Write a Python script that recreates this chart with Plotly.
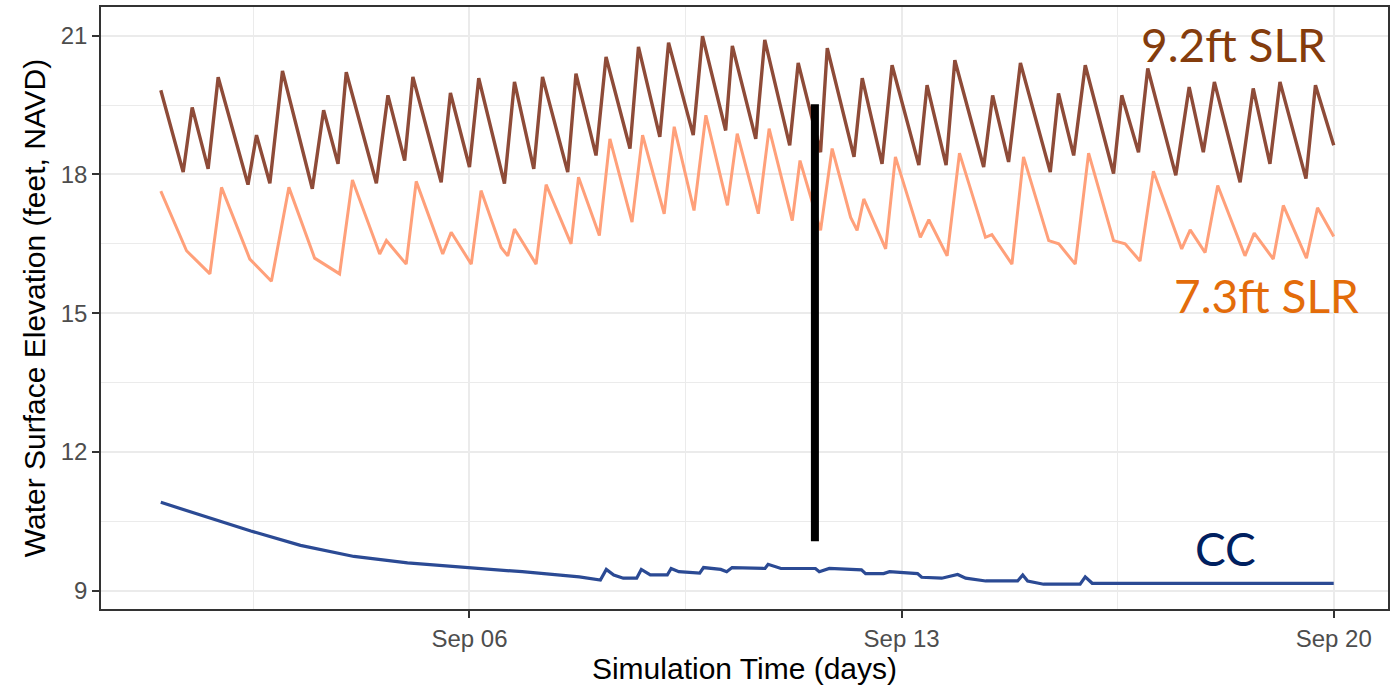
import pandas as pd
import plotly.graph_objects as go

START = pd.Timestamp("2023-09-01 00:00")

# 9.2ft SLR (hours since Sep 1, water surface elevation ft NAVD)
slr92_h = [0, 8.7, 12.2, 18.4, 22.3, 33.9, 37.2, 42.4, 47.3, 58.9, 63.3, 68.9, 72.1, 83.8, 88.3,
           94.8, 98.0, 109.0, 112.6, 120.0, 123.6, 133.6, 137.5, 145.0, 148.4, 158.2, 161.4, 169.2,
           173.1, 182.4, 185.7, 194.0, 197.4, 207.0, 210.6, 219.6, 222.2, 231.3, 234.8, 244.5, 247.8,
           256.5, 259.1, 269.5, 272.7, 280.4, 284.3, 294.7, 297.9, 305.3, 308.7, 319.9, 323.4, 329.6,
           334.2, 345.8, 349.0, 354.9, 359.4, 370.4, 373.6, 380.1, 383.7, 394.6, 399.8, 405.3, 409.6,
           419.6, 424.7, 431.2, 435.1, 445.2, 448.9, 456.0]
slr92_v = [19.82, 18.05, 19.45, 18.12, 20.10, 17.78, 18.85, 17.81, 20.24, 17.69, 19.39, 18.23, 20.21,
           17.81, 19.71, 18.30, 20.11, 17.83, 19.76, 18.16, 20.08, 17.80, 20.00, 18.12, 20.11, 18.05,
           20.18, 18.41, 20.54, 18.56, 20.76, 18.81, 20.85, 18.85, 20.99, 18.95, 20.78, 18.77, 20.91,
           18.63, 20.41, 18.48, 20.73, 18.38, 20.08, 18.23, 20.36, 18.20, 19.93, 18.20, 20.47, 18.16,
           19.71, 18.27, 20.41, 18.05, 19.75, 18.41, 20.36, 18.02, 19.71, 18.48, 20.29, 17.98, 19.89,
           18.48, 20.00, 17.83, 19.86, 18.23, 20.00, 17.91, 19.93, 18.63]

# 7.3ft SLR
slr73_h = [0, 10.0, 19.1, 23.6, 34.6, 43.0, 49.8, 59.8, 69.5, 74.5, 85.1, 87.7, 95.4, 99.3, 109.6,
           112.9, 120.7, 124.5, 132.3, 134.9, 137.5, 145.9, 149.8, 159.5, 162.4, 170.5, 174.6, 183.2,
           187.3, 195.7, 199.6, 207.3, 211.9, 220.3, 224.1, 232.3, 236.5, 245.5, 248.5, 256.5, 261.0,
           268.2, 270.7, 273.3, 281.8, 285.6, 295.3, 298.6, 305.7, 310.5, 320.6, 323.1, 330.9, 335.4,
           345.2, 349.1, 355.5, 360.7, 370.4, 374.9, 380.7, 385.9, 396.9, 400.2, 406.0, 410.9, 421.5,
           425.1, 432.5, 436.4, 445.4, 449.7, 456.0]
slr73_v = [17.64, 16.35, 15.85, 17.72, 16.17, 15.69, 17.72, 16.19, 15.85, 17.88, 16.28, 16.57, 16.06,
           17.85, 16.28, 16.75, 16.06, 17.65, 16.42, 16.24, 16.82, 16.06, 17.78, 16.50, 17.94, 16.68,
           18.77, 16.97, 18.85, 17.15, 19.03, 17.22, 19.28, 17.33, 18.88, 17.15, 18.99, 17.00, 18.30,
           16.79, 18.56, 17.07, 16.79, 17.47, 16.39, 18.38, 16.64, 17.02, 16.24, 18.46, 16.64, 16.70,
           16.06, 18.38, 16.57, 16.50, 16.06, 18.46, 16.57, 16.50, 16.13, 18.07, 16.39, 16.80, 16.31,
           17.76, 16.24, 16.73, 16.17, 17.33, 16.19, 17.28, 16.66]

# CC
cc_h = [0, 35.0, 54.3, 75.1, 95.9, 119.6, 140.5, 162.7, 170.9, 173.2, 176.1, 179.8, 185.0, 186.8,
        190.3, 196.9, 198.4, 201.4, 209.5, 211.0, 217.7, 220.0, 222.1, 234.9, 236.1, 241.1, 254.5,
        256.0, 259.9, 272.4, 274.0, 281.0, 283.3, 294.2, 295.8, 303.6, 309.8, 312.9, 320.7, 333.1,
        335.1, 337.0, 343.2, 357.4, 359.4, 362.1, 456.0]
cc_v = [10.91, 10.29, 9.98, 9.74, 9.60, 9.50, 9.41, 9.30, 9.23, 9.46, 9.34, 9.27, 9.27, 9.46,
        9.34, 9.34, 9.48, 9.41, 9.38, 9.50, 9.46, 9.41, 9.50, 9.48, 9.57, 9.48, 9.48,
        9.41, 9.48, 9.45, 9.37, 9.37, 9.41, 9.37, 9.29, 9.27, 9.35, 9.27, 9.21, 9.21,
        9.34, 9.21, 9.14, 9.14, 9.30, 9.16, 9.16]

# black vertical marker
marker_h = [254.3, 254.3]
marker_v = [10.07, 19.52]

x_tick_dates = ["2023-09-06", "2023-09-13", "2023-09-20"]
x_tick_text = ["Sep 06", "Sep 13", "Sep 20"]
y_tick_vals = [9, 12, 15, 18, 21]

labels = [
    ("9.2ft SLR", 417.0, 20.80, "#843C0C"),
    ("7.3ft SLR", 429.8, 15.39, "#E36C0A"),
    ("CC", 414.0, 9.91, "#002060"),
]


def to_time(hours):
    return START + pd.to_timedelta(hours, unit="h")


fig = go.Figure()
fig.add_trace(go.Scatter(x=to_time(slr73_h), y=slr73_v, mode="lines",
                         line=dict(color="#FFA07A", width=3), name="7.3ft SLR"))
fig.add_trace(go.Scatter(x=to_time(slr92_h), y=slr92_v, mode="lines",
                         line=dict(color="#8E4B38", width=3.4), name="9.2ft SLR"))
fig.add_trace(go.Scatter(x=to_time(cc_h), y=cc_v, mode="lines",
                         line=dict(color="#2B4A94", width=3.2), name="CC"))
fig.add_trace(go.Scatter(x=to_time(marker_h), y=marker_v, mode="lines",
                         line=dict(color="#000000", width=8), name="marker"))

for text, h, v, col in labels:
    fig.add_annotation(x=to_time(h), y=v, text=text, showarrow=False,
                       xanchor="center", yanchor="middle",
                       font=dict(family="Lato", size=46, color=col))

grid = "#EBEBEB"
fig.update_layout(
    width=1392, height=692,
    margin=dict(l=101, r=2, t=7, b=83),
    paper_bgcolor="white", plot_bgcolor="white",
    showlegend=False,
    font=dict(family="Liberation Sans, Arial", color="#4D4D4D"),
)
fig.update_xaxes(
    range=[to_time(-23.25), to_time(477.1)],
    tickvals=pd.to_datetime(x_tick_dates), ticktext=x_tick_text,
    tickfont=dict(size=24, color="#4D4D4D"),
    ticks="outside", ticklen=7, tickwidth=1.5, tickcolor="#333333",
    showgrid=True, gridcolor=grid, gridwidth=1.5,
    minor=dict(tickvals=pd.to_datetime(["2023-09-02 12:00", "2023-09-09 12:00", "2023-09-16 12:00"]),
               showgrid=True, gridcolor=grid, gridwidth=1, ticks=""),
    showline=True, linecolor="#333333", linewidth=1.5, mirror=True,
    zeroline=False,
    title=dict(text="Simulation Time (days)", font=dict(size=30, color="#000000"), standoff=6),
)
fig.update_yaxes(
    range=[8.604, 21.62],
    tickvals=y_tick_vals,
    tickfont=dict(size=24, color="#4D4D4D"),
    ticks="outside", ticklen=7, tickwidth=1.5, tickcolor="#333333",
    showgrid=True, gridcolor=grid, gridwidth=1.5,
    minor=dict(tickvals=[10.5, 13.5, 16.5, 19.5], showgrid=True, gridcolor=grid, gridwidth=1, ticks=""),
    showline=True, linecolor="#333333", linewidth=1.5, mirror=True,
    zeroline=False,
    title=dict(text="Water Surface Elevation (feet, NAVD)", font=dict(size=30, color="#000000"), standoff=6),
)

fig.write_html("out.html")
